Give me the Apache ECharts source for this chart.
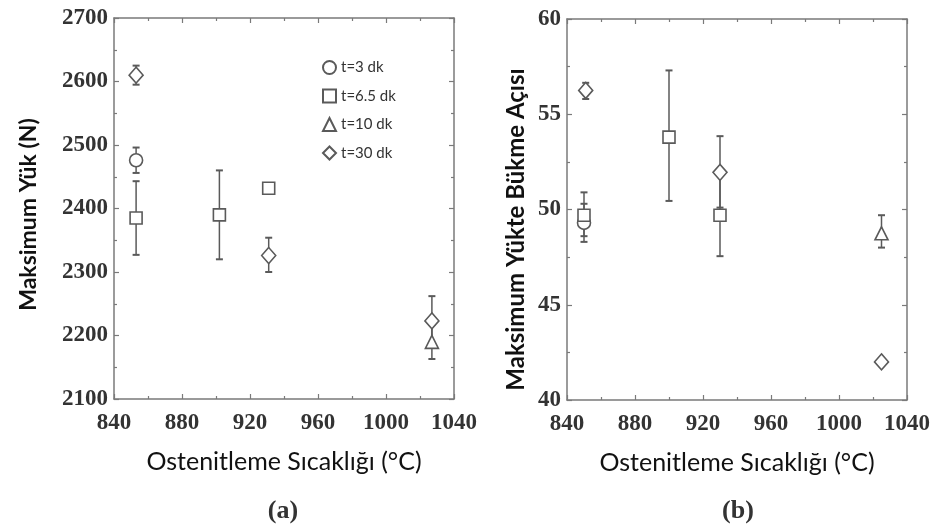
<!DOCTYPE html>
<html><head><meta charset="utf-8">
<script src="https://cdn.jsdelivr.net/npm/echarts@6/dist/echarts.min.js"></script>
<style>html,body{margin:0;padding:0;background:#fff}#c{width:944px;height:531px}</style>
</head><body><div id="c"></div>
<script>
// ---- data ----
const seriesNames = ['t=3 dk', 't=6.5 dk', 't=10 dk', 't=30 dk'];
const symbols = ['circle', 'rect', 'triangle', 'diamond'];
const xTitle = 'Ostenitleme Sıcaklığı (°C)';
const yTitleA = 'Maksimum Yük (N)';
const yTitleB = 'Maksimum Yükte Bükme Açısı';

// Panel (a): maximum load
const loadX  = [[853], [853, 902, 931], [1027], [853, 931, 1027]];
const loadY  = [[2476], [2385, 2390, 2432], [2190], [2610, 2326, 2223]];
const loadLo = [[2456], [2327, 2320, 2424], [2163], [2595, 2300, 2184]];
const loadHi = [[2496], [2443, 2460, 2440], [2217], [2625, 2354, 2262]];

// Panel (b): bending angle at maximum load
const angX  = [[850], [850, 900, 930], [1025], [851, 930, 1025]];
const angY  = [[49.3], [49.7, 53.8, 49.7], [48.75], [56.25, 51.95, 42.0]];
const angLo = [[48.3], [48.6, 50.45, 47.55], [48.0], [55.8, 50.1, 41.8]];
const angHi = [[50.3], [50.9, 57.3, 51.9], [49.7], [56.65, 53.85, 42.2]];

// ---- styles ----
const ink = '#5a5a5a';
const axisCol = '#7a7a7a';
const labelFont = 'Liberation Serif';
const titleFont = 'Lato';
const plain = v => String(v);

function xAxisPair(gi) {
  const base = {
    gridIndex: gi, type: 'value', min: 840, max: 1040, interval: 40,
    axisLine: { show: true, lineStyle: { color: axisCol, width: 1.5 } },
    axisTick: { show: true, inside: true, length: 5, lineStyle: { color: axisCol, width: 1.2 } },
    minorTick: { show: true, splitNumber: 2, length: 3, lineStyle: { color: axisCol, width: 1.2 } },
    splitLine: { show: false }
  };
  return [
    Object.assign({}, base, {
      position: 'bottom',
      axisLabel: { show: true, margin: 13, formatter: plain, fontFamily: labelFont, fontSize: 23, fontWeight: 'bold', color: '#333' },
      name: xTitle, nameLocation: 'middle', nameGap: 50,
      nameTextStyle: { fontFamily: titleFont, fontSize: 25, color: '#111', fontWeight: 'normal' }
    }),
    Object.assign({}, base, { position: 'top', axisLabel: { show: false } })
  ];
}

function yAxisPair(gi, min, max, interval, title, gap, fs, shift) {
  const base = {
    gridIndex: gi, type: 'value', min: min, max: max, interval: interval,
    axisLine: { show: true, lineStyle: { color: axisCol, width: 1.5 } },
    axisTick: { show: true, inside: true, length: 5, lineStyle: { color: axisCol, width: 1.2 } },
    minorTick: { show: true, splitNumber: 2, length: 3, lineStyle: { color: axisCol, width: 1.2 } },
    splitLine: { show: false }
  };
  return [
    Object.assign({}, base, {
      position: 'left',
      axisLabel: { show: true, margin: 6, formatter: plain, fontFamily: labelFont, fontSize: 23, fontWeight: 'bold', color: '#333' },
      name: title, nameLocation: 'middle', nameGap: gap,
      nameTextStyle: { fontFamily: titleFont, fontSize: fs, fontWeight: 'bold', color: '#111', padding: [0, shift, 0, 0] }
    }),
    Object.assign({}, base, { position: 'right', axisLabel: { show: false } })
  ];
}

function errRender(params, api) {
  const x = api.value(0), lo = api.value(1), hi = api.value(2);
  const p1 = api.coord([x, lo]), p2 = api.coord([x, hi]);
  const cw = 3.5;
  const st = { stroke: ink, lineWidth: 1.5 };
  return {
    type: 'group', children: [
      { type: 'line', shape: { x1: p1[0], y1: p1[1], x2: p2[0], y2: p2[1] }, style: st },
      { type: 'line', shape: { x1: p1[0] - cw, y1: p1[1], x2: p1[0] + cw, y2: p1[1] }, style: { stroke: ink, lineWidth: 2 } },
      { type: 'line', shape: { x1: p2[0] - cw, y1: p2[1], x2: p2[0] + cw, y2: p2[1] }, style: { stroke: ink, lineWidth: 2 } }
    ]
  };
}

function panelSeries(xi, yi, X, Y, LO, HI, tag) {
  const out = [];
  const sizes = [13, 12, 13, [14, 16]];
  for (let k = 0; k < seriesNames.length; k++) {
    out.push({
      type: 'custom', name: 'err' + tag + k, xAxisIndex: xi, yAxisIndex: yi,
      renderItem: errRender, encode: { x: 0, y: [1, 2] }, z: 1, silent: true,
      data: X[k].map((x, i) => [x, LO[k][i], HI[k][i]])
    });
  }
  for (let k = 0; k < seriesNames.length; k++) {
    out.push({
      type: 'scatter', name: seriesNames[k], xAxisIndex: xi, yAxisIndex: yi,
      symbol: symbols[k], symbolSize: sizes[k], z: 5,
      itemStyle: { color: '#fff', borderColor: ink, borderWidth: 1.6, opacity: 1 },
      data: X[k].map((x, i) => [x, Y[k][i]])
    });
  }
  return out;
}

const chart = echarts.init(document.getElementById('c'), null, { renderer: 'canvas' });
chart.setOption({
  animation: false,
  backgroundColor: '#fff',
  grid: [
    { left: 114, top: 18, width: 340, height: 381 },
    { left: 567, top: 19, width: 340, height: 381 }
  ],
  xAxis: [].concat(xAxisPair(0), xAxisPair(1)),
  yAxis: [].concat(yAxisPair(0, 2100, 2700, 100, yTitleA, 74, 23, 12), yAxisPair(1, 40, 60, 5, yTitleB, 39, 24, 40)),
  legend: {
    data: seriesNames, orient: 'vertical', left: 317, top: 55,
    itemWidth: 13, itemHeight: 13, itemGap: 13.5,
    textStyle: { fontFamily: titleFont, fontSize: 15, color: '#333' },
    selectedMode: false
  },
  graphic: [
    { type: 'text', x: 283, y: 511, style: { text: '(a)', font: 'bold 26px "Liberation Serif"', fill: '#333', textAlign: 'center', textVerticalAlign: 'middle' } },
    { type: 'text', x: 738, y: 511, style: { text: '(b)', font: 'bold 26px "Liberation Serif"', fill: '#333', textAlign: 'center', textVerticalAlign: 'middle' } }
  ],
  series: [].concat(
    panelSeries(0, 0, loadX, loadY, loadLo, loadHi, 'a'),
    panelSeries(2, 2, angX, angY, angLo, angHi, 'b')
  )
});
</script>
</body></html>
